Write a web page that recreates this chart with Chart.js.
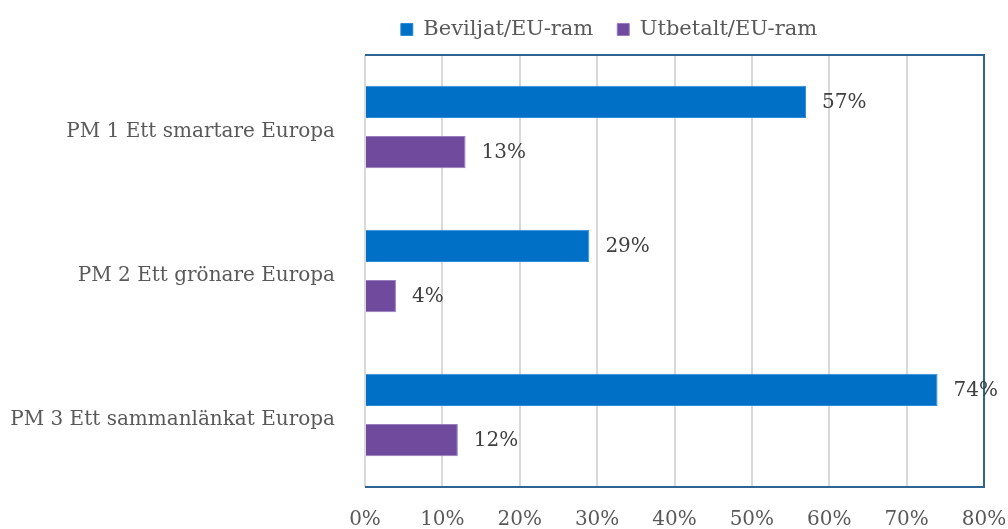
<!DOCTYPE html>
<html>
<head>
<meta charset="utf-8">
<script src="https://cdn.jsdelivr.net/npm/chart.js@4"></script>
<style>
  html, body { margin: 0; padding: 0; background: #fff; }
  #wrap { width: 1008px; height: 529px; }
</style>
</head>
<body>
<div id="wrap"><canvas id="chart" width="1008" height="529"></canvas></div>
<script>
const CATEGORIES = ['PM 1 Ett smartare Europa', 'PM 2 Ett grönare Europa', 'PM 3 Ett sammanlänkat Europa'];
const SERIES_NAMES = ['Beviljat/EU-ram', 'Utbetalt/EU-ram'];
const BEVILJAT = [57, 29, 74];
const UTBETALT = [13, 4, 12];
const X_MAX = 80;
const X_STEP = 10;

const BLUE = '#0070c6';
const PURPLE = '#704a9d';
const TEXT_COLOR = '#595959';
const FRAME_COLOR = '#2e6393';
const FONT = '"DejaVu Serif", serif';

// fixed legend band, shifted right like the original
function legendPlacePlugin() {
    return {
        id: 'legendPlace',
        beforeInit(chart) {
            const fit = chart.legend.fit;
            chart.legend.fit = function () {
                fit.call(this);
                this.height = 55;
            };
        },
        afterLayout(chart) {
            const lg = chart.legend;
            lg.left = 210;
            lg.right = 1008;
            lg.top = -5;
        }
    };
}

function framePlugin() {
    return {
        id: 'frame',
        afterDatasetsDraw(chart) {
            const { ctx, chartArea: a } = chart;
            ctx.save();
            ctx.strokeStyle = FRAME_COLOR;
            ctx.lineWidth = 2;
            ctx.beginPath();
            ctx.moveTo(a.left, a.top);
            ctx.lineTo(a.right, a.top);
            ctx.lineTo(a.right, a.bottom);
            ctx.lineTo(a.left, a.bottom);
            ctx.stroke();
            ctx.restore();
        }
    };
}

function valueLabelPlugin() {
    return {
        id: 'valueLabels',
        afterDraw(chart) {
            const { ctx } = chart;
            ctx.save();
            ctx.font = '20px ' + FONT;
            ctx.fillStyle = '#404040';
            ctx.textBaseline = 'middle';
            ctx.textAlign = 'left';
            chart.data.datasets.forEach((ds, di) => {
                chart.getDatasetMeta(di).data.forEach((bar, i) => {
                    ctx.fillText(ds.data[i] + '%', bar.x + 16, bar.y + 1);
                });
            });
            ctx.restore();
        }
    };
}

new Chart(document.getElementById('chart'), {
    type: 'bar',
    data: {
        labels: CATEGORIES,
        datasets: [
            { label: SERIES_NAMES[0], data: BEVILJAT, backgroundColor: BLUE, borderColor: '#2f8ad6', borderWidth: 1, borderSkipped: 'start' },
            { label: SERIES_NAMES[1], data: UTBETALT, backgroundColor: PURPLE, borderColor: '#9a7cc0', borderWidth: 1, borderSkipped: 'start' }
        ]
    },
    options: {
        indexAxis: 'y',
        responsive: false,
        animation: false,
        categoryPercentage: 0.70,
        barPercentage: 0.64,
        layout: { padding: { left: 0, right: 24, top: 0, bottom: 0 } },
        plugins: {
            legend: {
                position: 'top',
                align: 'center',
                labels: {
                    boxWidth: 12,
                    boxHeight: 12,
                    padding: 24,
                    color: TEXT_COLOR,
                    font: { family: FONT, size: 21 }
                }
            },
            tooltip: { enabled: false }
        },
        scales: {
            x: {
                min: 0,
                max: X_MAX,
                ticks: {
                    stepSize: X_STEP,
                    color: TEXT_COLOR,
                    padding: 21,
                    font: { family: FONT, size: 20 },
                    callback: v => v + '%'
                },
                grid: { color: '#d9d9d9', lineWidth: 2, drawTicks: false },
                border: { display: false },
                afterFit(scale) {
                    scale.height = 40;
                    scale.paddingLeft = 0;
                    scale.paddingRight = 0;
                }
            },
            y: {
                ticks: {
                    color: TEXT_COLOR,
                    padding: 30,
                    labelOffset: 5,
                    font: { family: FONT, size: 20 }
                },
                grid: { display: false, drawTicks: false },
                border: { display: false },
                afterFit(scale) { scale.width = 365; }
            }
        }
    },
    plugins: [legendPlacePlugin(), framePlugin(), valueLabelPlugin()]
});
</script>
</body>
</html>
